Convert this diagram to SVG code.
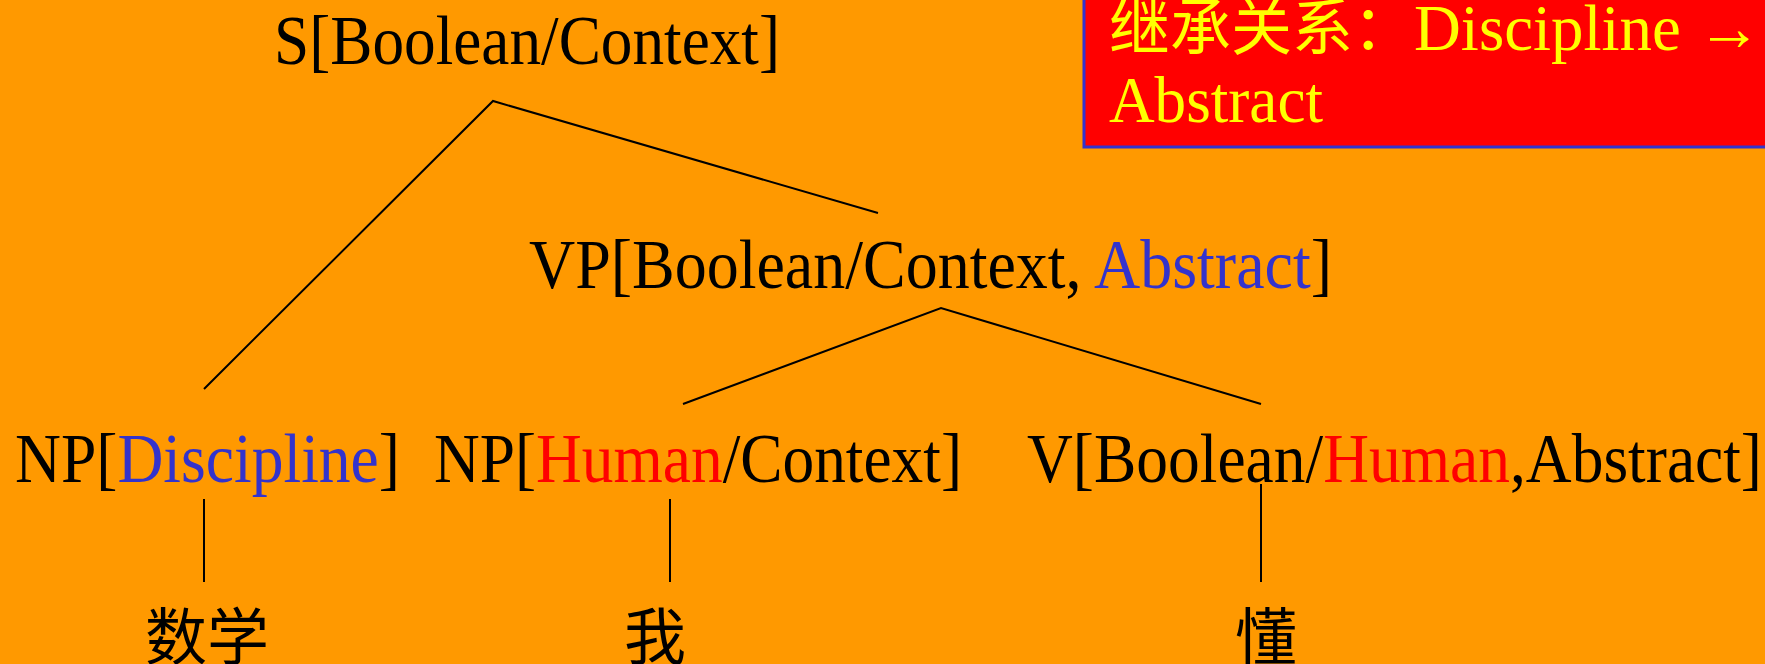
<svg xmlns="http://www.w3.org/2000/svg" width="1765" height="664" viewBox="0 0 1765 664">
<style>
.t{font-family:"Liberation Serif","Times New Roman",serif;font-size:70px;fill:#000}
.c{font-family:"Liberation Serif","Noto Sans CJK SC",serif;font-size:66px;fill:#000}
.cj{font-family:"Noto Sans CJK SC",sans-serif;font-size:62px;fill:#000}
.b{fill:#3333CC}
.r{fill:#FF0000}
.y{fill:#FFFF00}
.ln{stroke:#000;stroke-width:2;fill:none}
</style>
<rect x="0" y="0" width="1765" height="664" fill="#FF9900"/>
<g id="legend">
<rect x="1084" y="-5" width="690" height="152" fill="#FF0000" stroke="#3333CC" stroke-width="3"/>
<text x="1109" y="50" class="c y" textLength="653" lengthAdjust="spacingAndGlyphs"><tspan font-family="Noto Sans CJK SC, sans-serif" font-size="62">继承关系：</tspan>Discipline →</text>
<text x="1109" y="122" class="c y" textLength="214" lengthAdjust="spacingAndGlyphs">Abstract</text>
</g>
<g id="connectors">
<polyline class="ln" points="204,389 493,101 878,213"/>
<polyline class="ln" points="683,404 941,308 1261,404"/>
<line class="ln" x1="204" y1="499" x2="204" y2="582"/>
<line class="ln" x1="670" y1="499" x2="670" y2="582"/>
<line class="ln" x1="1261" y1="484" x2="1261" y2="582"/>
</g>
<g id="S"><text x="274" y="64" class="t" textLength="506" lengthAdjust="spacingAndGlyphs">S[Boolean/Context]</text></g>
<g id="VP"><text x="529" y="288" class="t" textLength="803" lengthAdjust="spacingAndGlyphs">VP[Boolean/Context, <tspan class="b">Abstract</tspan>]</text></g>
<g id="NP1"><text x="15" y="482" class="t" textLength="385" lengthAdjust="spacingAndGlyphs">NP[<tspan class="b">Discipline</tspan>]</text></g>
<g id="NP2"><text x="434" y="482" class="t" textLength="528" lengthAdjust="spacingAndGlyphs">NP[<tspan class="r">Human</tspan>/Context]</text></g>
<g id="V"><text x="1027" y="482" class="t" textLength="735" lengthAdjust="spacingAndGlyphs">V[Boolean/<tspan class="r">Human</tspan>,Abstract]</text></g>
<g id="w1"><text x="207" y="660" class="cj" text-anchor="middle">数学</text></g>
<g id="w2"><text x="655" y="660" class="cj" text-anchor="middle">我</text></g>
<g id="w3"><text x="1266" y="660" class="cj" text-anchor="middle">懂</text></g>
</svg>
